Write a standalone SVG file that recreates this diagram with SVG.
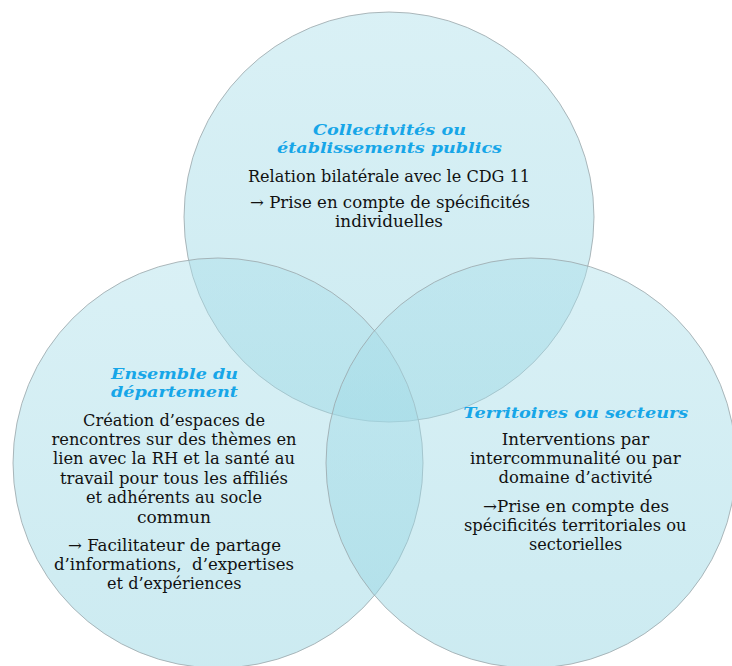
<svg xmlns="http://www.w3.org/2000/svg" width="732" height="666" viewBox="0 0 732 666">
<defs>
<linearGradient id="g" x1="0" y1="0" x2="0" y2="1">
<stop offset="0" stop-color="rgb(172,223,234)"/>
<stop offset="1" stop-color="rgb(142,210,224)"/>
</linearGradient>
</defs>
<style>
.c{fill:url(#g);fill-opacity:0.45;stroke:#9aa6a9;stroke-width:0.8}
.t{font-family:"DejaVu Serif","Liberation Serif",serif;font-weight:bold;font-style:italic;font-size:15.2px;fill:#17a6e8;text-anchor:middle}
.b{font-family:"DejaVu Serif","Liberation Serif",serif;font-size:16px;fill:#111;text-anchor:middle}
</style>
<rect width="732" height="666" fill="#fff"/>
<g id="connectors"/>
<g id="node-collectivites">
<circle class="c" cx="389" cy="217" r="205"/>
<text class="t" x="389.5" y="135" textLength="153" lengthAdjust="spacingAndGlyphs">Collectivités ou</text>
<text class="t" x="389.5" y="153" textLength="225" lengthAdjust="spacingAndGlyphs">établissements publics</text>
<text class="b" x="389" y="181.5" textLength="282" lengthAdjust="spacingAndGlyphs">Relation bilatérale avec le CDG 11</text>
<text class="b" x="390" y="208" textLength="280" lengthAdjust="spacingAndGlyphs">→ Prise en compte de spécificités</text>
<text class="b" x="389" y="226.5" textLength="108" lengthAdjust="spacingAndGlyphs">individuelles</text>
</g>
<g id="node-departement">
<circle class="c" cx="218" cy="463" r="205"/>
<text class="t" x="174.5" y="378.5" textLength="127" lengthAdjust="spacingAndGlyphs">Ensemble du</text>
<text class="t" x="174.5" y="396.5" textLength="127" lengthAdjust="spacingAndGlyphs">département</text>
<text class="b" x="174" y="425.5" textLength="182" lengthAdjust="spacingAndGlyphs">Création d’espaces de</text>
<text class="b" x="174" y="445" textLength="245" lengthAdjust="spacingAndGlyphs">rencontres sur des thèmes en</text>
<text class="b" x="174" y="464.3" textLength="242" lengthAdjust="spacingAndGlyphs">lien avec la RH et la santé au</text>
<text class="b" x="174" y="483.5" textLength="228" lengthAdjust="spacingAndGlyphs">travail pour tous les affiliés</text>
<text class="b" x="174" y="503.3" textLength="176" lengthAdjust="spacingAndGlyphs">et adhérents au socle</text>
<text class="b" x="174" y="522.7" textLength="74" lengthAdjust="spacingAndGlyphs">commun</text>
<text class="b" x="174.5" y="551" textLength="213" lengthAdjust="spacingAndGlyphs">→ Facilitateur de partage</text>
<text class="b" x="174" y="570" textLength="240" lengthAdjust="spacingAndGlyphs" xml:space="preserve">d’informations,  d’expertises</text>
<text class="b" x="174.3" y="589.3" textLength="134.5" lengthAdjust="spacingAndGlyphs">et d’expériences</text>
</g>
<g id="node-territoires">
<circle class="c" cx="531" cy="463" r="205"/>
<text class="t" x="575.8" y="417.7" textLength="225" lengthAdjust="spacingAndGlyphs">Territoires ou secteurs</text>
<text class="b" x="575.5" y="445" textLength="147.6" lengthAdjust="spacingAndGlyphs">Interventions par</text>
<text class="b" x="575.3" y="464.3" textLength="210.7" lengthAdjust="spacingAndGlyphs">intercommunalité ou par</text>
<text class="b" x="575.5" y="483.3" textLength="154" lengthAdjust="spacingAndGlyphs">domaine d’activité</text>
<text class="b" x="576" y="511.7" textLength="186" lengthAdjust="spacingAndGlyphs">→Prise en compte des</text>
<text class="b" x="575.3" y="531" textLength="222.7" lengthAdjust="spacingAndGlyphs">spécificités territoriales ou</text>
<text class="b" x="575.7" y="550" textLength="93.3" lengthAdjust="spacingAndGlyphs">sectorielles</text>
</g>
</svg>
